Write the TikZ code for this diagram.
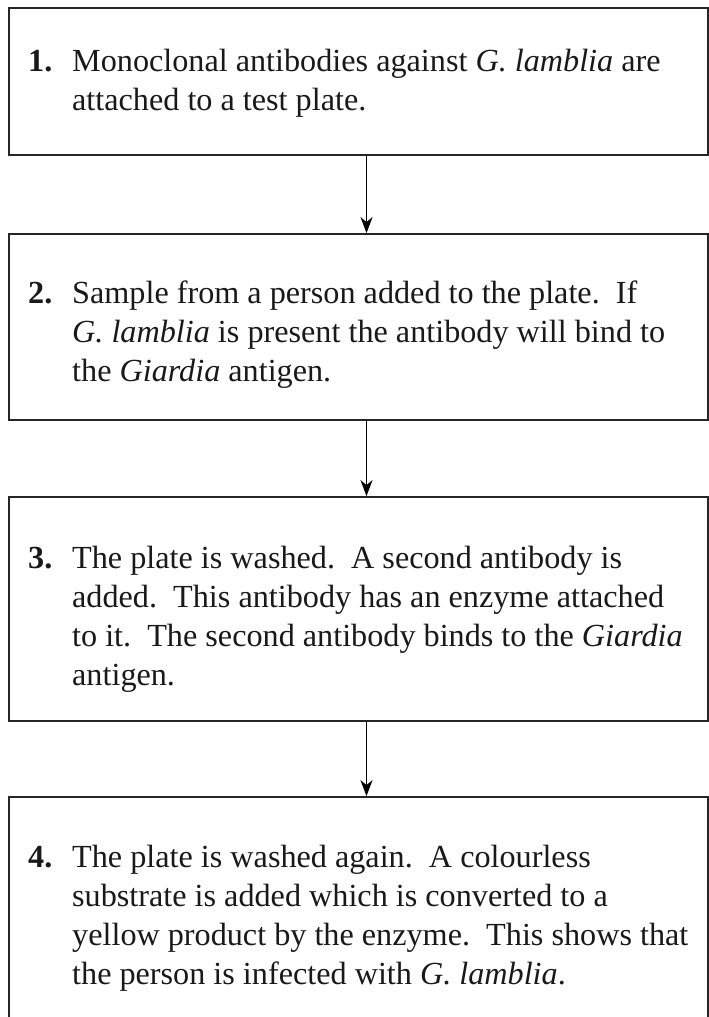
\documentclass[tikz,border=0pt]{standalone}
\usepackage{fontspec}
\setmainfont{Liberation Serif}
\usepackage{array}
\usetikzlibrary{arrows.meta, positioning, calc}

\begin{document}
\begin{tikzpicture}[
        x=1pt, y=-1pt,
        stepbox/.style={rectangle, draw=black!85, line width=1.8pt, minimum width=699pt, inner sep=0pt},
        steptext/.style={anchor=base west, inner sep=0pt, text=black!90, font=\fontsize{32.2}{39}\selectfont},
        flow/.style={-{Stealth[length=16pt, width=12pt, inset=5pt]}, line width=1.9pt, draw=black}
    ]
        \clip (0,0) rectangle (709,1017);
        \useasboundingbox (0,0) rectangle (709,1017);
        \node[stepbox, minimum height=147pt] (plate) at (358.5, 81.5) {};
        \node[stepbox, minimum height=186pt] (sample) at (358.5, 327) {};
        \node[stepbox, minimum height=224pt] (second) at (358.5, 609) {};
        \node[stepbox, minimum height=243pt] (substrate) at (358.5, 918.5) {};
        \node[steptext] (platetext) at (28, 71) {\begin{tabular}[t]{@{}p{44pt}@{}l@{}}
            \textbf{1.} & Monoclonal antibodies against \textit{G. lamblia} are\\
            & attached to a test plate.
        \end{tabular}};
        \node[steptext] (sampletext) at (28, 303) {\begin{tabular}[t]{@{}p{44pt}@{}l@{}}
            \textbf{2.} & Sample from a person added to the plate.\ \ If\\
            & \textit{G. lamblia} is present the antibody will bind to\\
            & the \textit{Giardia} antigen.
        \end{tabular}};
        \node[steptext] (secondtext) at (28, 568) {\begin{tabular}[t]{@{}p{44pt}@{}l@{}}
            \textbf{3.} & The plate is washed.\ \ A second antibody is\\
            & added.\ \ This antibody has an enzyme attached\\
            & to it.\ \ The second antibody binds to the \textit{Giardia}\\
            & antigen.
        \end{tabular}};
        \node[steptext] (substratetext) at (28, 867) {\begin{tabular}[t]{@{}p{44pt}@{}l@{}}
            \textbf{4.} & The plate is washed again.\ \ A colourless\\
            & substrate is added which is converted to a\\
            & yellow product by the enzyme.\ \ This shows that\\
            & the person is infected with \textit{G. lamblia}.
        \end{tabular}};
        \draw[flow] ([xshift=8pt]plate.south) -- ([xshift=8pt]sample.north);
        \draw[flow] ([xshift=8pt]sample.south) -- ([xshift=8pt]second.north);
        \draw[flow] ([xshift=8pt]second.south) -- ([xshift=8pt]substrate.north);
    \end{tikzpicture}
\end{document}
